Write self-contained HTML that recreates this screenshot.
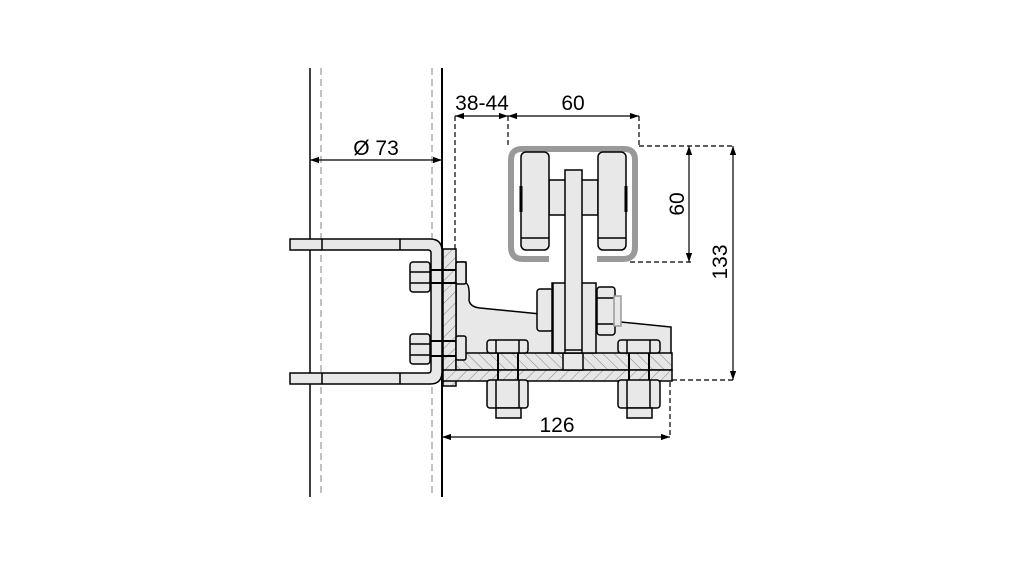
<!DOCTYPE html>
<html><head><meta charset="utf-8"><style>
html,body{margin:0;padding:0;background:#fff;}
svg{display:block;}
text{font-family:"Liberation Sans",sans-serif;font-size:21px;fill:#000;}
</style></head><body>
<svg width="1022" height="567" viewBox="0 0 1022 567" xmlns="http://www.w3.org/2000/svg">
<defs>
<pattern id="h" width="8" height="8" patternUnits="userSpaceOnUse" patternTransform="rotate(45)">
<rect width="8" height="8" fill="#e6e6e6"/><line x1="0" y1="0" x2="0" y2="8" stroke="#777" stroke-width="0.9"/></pattern>
<pattern id="h2" width="8" height="8" patternUnits="userSpaceOnUse" patternTransform="rotate(-45)">
<rect width="8" height="8" fill="#e6e6e6"/><line x1="0" y1="0" x2="0" y2="8" stroke="#777" stroke-width="0.9"/></pattern>
<marker id="a" viewBox="0 0 10 10" refX="10" refY="5" markerWidth="9" markerHeight="9" orient="auto-start-reverse" markerUnits="userSpaceOnUse"><path d="M0,1.5 L10,5 L0,8.5 z" fill="#000"/></marker>
</defs>
<g stroke="#000" fill="none" stroke-width="1.5">
<!-- pole -->
<line x1="310" y1="68" x2="310" y2="497"/>
<line x1="442" y1="68" x2="442" y2="497" stroke-width="2"/>
<line x1="321" y1="68" x2="321" y2="497" stroke="#999" stroke-dasharray="7,4" stroke-width="1.2"/>
<line x1="432" y1="68" x2="432" y2="497" stroke="#999" stroke-dasharray="7,4" stroke-width="1.2"/>
<!-- U bolt -->
<path d="M290,239 H430 Q442,239 442,251 V372 Q442,384 430,384 H290 V373 H428 Q431,373 431,370 V253 Q431,250 428,250 H290 Z" fill="#e8e8e8"/>
<line x1="322" y1="239" x2="322" y2="250"/><line x1="400" y1="239" x2="400" y2="250"/>
<line x1="322" y1="373" x2="322" y2="384"/><line x1="400" y1="373" x2="400" y2="384"/>
<!-- bracket -->
<path d="M456,262 H466 V283 Q470,285 469,300 Q470,307 480,308 L671,327 V380 H456 Z" fill="#e8e8e8"/>
<!-- hatched vertical plate -->
<rect x="443" y="249" width="13" height="137" fill="url(#h)"/>
<!-- hatched base -->
<rect x="456" y="353" width="216" height="17" fill="url(#h2)"/>
<rect x="443" y="370" width="229" height="11" fill="url(#h)"/>
<rect x="563" y="353" width="20" height="17" fill="#e8e8e8"/>
<!-- left nuts -->
<g fill="#e8e8e8">
<rect x="410" y="262" width="20" height="30" rx="3"/><line x1="410" y1="272" x2="430" y2="272"/><line x1="410" y1="283" x2="430" y2="283"/>
<rect x="410" y="334" width="20" height="30" rx="3"/><line x1="410" y1="344" x2="430" y2="344"/><line x1="410" y1="355" x2="430" y2="355"/>
<rect x="456" y="262" width="10" height="22" rx="2"/>
<rect x="456" y="336" width="10" height="24" rx="2"/>
</g>
<line x1="430" y1="270" x2="456" y2="270" stroke-width="2"/><line x1="430" y1="283" x2="456" y2="283" stroke-width="2"/>
<line x1="430" y1="341" x2="456" y2="341" stroke-width="2"/><line x1="430" y1="356" x2="456" y2="356" stroke-width="2"/>
<!-- bottom bolts -->
<g fill="#e8e8e8">
<rect x="487" y="340" width="41" height="13" rx="3"/><line x1="496" y1="340" x2="496" y2="353"/><line x1="519" y1="340" x2="519" y2="353"/>
<rect x="487" y="380" width="41" height="28" rx="3"/><line x1="496" y1="380" x2="496" y2="408"/><line x1="519" y1="380" x2="519" y2="408"/>
<rect x="496" y="408" width="25" height="10"/>
<rect x="618" y="340" width="42" height="13" rx="3"/><line x1="627" y1="340" x2="627" y2="353"/><line x1="650" y1="340" x2="650" y2="353"/>
<rect x="618" y="380" width="42" height="28" rx="3"/><line x1="627" y1="380" x2="627" y2="408"/><line x1="650" y1="380" x2="650" y2="408"/>
<rect x="627" y="408" width="25" height="10"/>
</g>
<line x1="498" y1="353" x2="498" y2="380" stroke-width="2"/><line x1="518" y1="353" x2="518" y2="380" stroke-width="2"/>
<line x1="629" y1="353" x2="629" y2="380" stroke-width="2"/><line x1="649" y1="353" x2="649" y2="380" stroke-width="2"/>
<!-- clevis & nuts -->
<g fill="#e8e8e8">
<rect x="537" y="289" width="16" height="42" rx="3"/>
<rect x="552" y="283" width="44" height="70"/>
<rect x="597" y="287" width="18" height="48" rx="3"/><line x1="597" y1="298" x2="615" y2="298"/><line x1="597" y1="324" x2="615" y2="324"/>
<rect x="614" y="296" width="7" height="30" stroke="#999"/>
</g>
<line x1="553" y1="283" x2="553" y2="353"/>
<!-- rail -->
<path d="M549,259 H523 Q511,259 511,247 V160 Q511,149 522,149 H624 Q635,149 635,160 V247 Q635,259 623,259 H597" stroke="#999" stroke-width="6"/>
<g fill="#e8e8e8">
<rect x="549" y="180" width="49" height="35"/>
<rect x="521" y="152" width="28" height="98" rx="5"/>
<rect x="598" y="152" width="28" height="98" rx="5"/>
<rect x="565" y="170" width="17" height="183"/>
</g>
<line x1="521" y1="238" x2="549" y2="238"/><line x1="598" y1="238" x2="626" y2="238"/>
<line x1="521" y1="186" x2="521" y2="212" stroke-width="3"/><line x1="626" y1="186" x2="626" y2="212" stroke-width="3"/>
<line x1="565" y1="350" x2="582" y2="350"/>
<!-- dimensions -->
<g stroke-width="1.2">
<line x1="310" y1="160" x2="442" y2="160" marker-start="url(#a)" marker-end="url(#a)"/>
<line x1="455" y1="116" x2="508" y2="116" marker-start="url(#a)" marker-end="url(#a)"/>
<line x1="508" y1="116" x2="639" y2="116" marker-start="url(#a)" marker-end="url(#a)"/>
<line x1="689" y1="146" x2="689" y2="262" marker-start="url(#a)" marker-end="url(#a)"/>
<line x1="733" y1="146" x2="733" y2="380" marker-start="url(#a)" marker-end="url(#a)"/>
<line x1="442" y1="437" x2="670" y2="437" marker-start="url(#a)" marker-end="url(#a)"/>
<g stroke-dasharray="5,3">
<line x1="455" y1="116" x2="455" y2="250"/>
<line x1="508" y1="116" x2="508" y2="146"/>
<line x1="639" y1="116" x2="639" y2="146"/>
<line x1="639" y1="146" x2="735" y2="146"/>
<line x1="630" y1="262" x2="691" y2="262"/>
<line x1="672" y1="380" x2="735" y2="380"/>
<line x1="670" y1="382" x2="670" y2="437"/>
</g></g>
</g>
<text x="376" y="155" text-anchor="middle">Ø 73</text>
<text x="482" y="110" text-anchor="middle">38-44</text>
<text x="573" y="110" text-anchor="middle">60</text>
<text x="557" y="432" text-anchor="middle">126</text>
<text transform="translate(684,204) rotate(-90)" text-anchor="middle">60</text>
<text transform="translate(727,262) rotate(-90)" text-anchor="middle">133</text>
</svg>
</body></html>
